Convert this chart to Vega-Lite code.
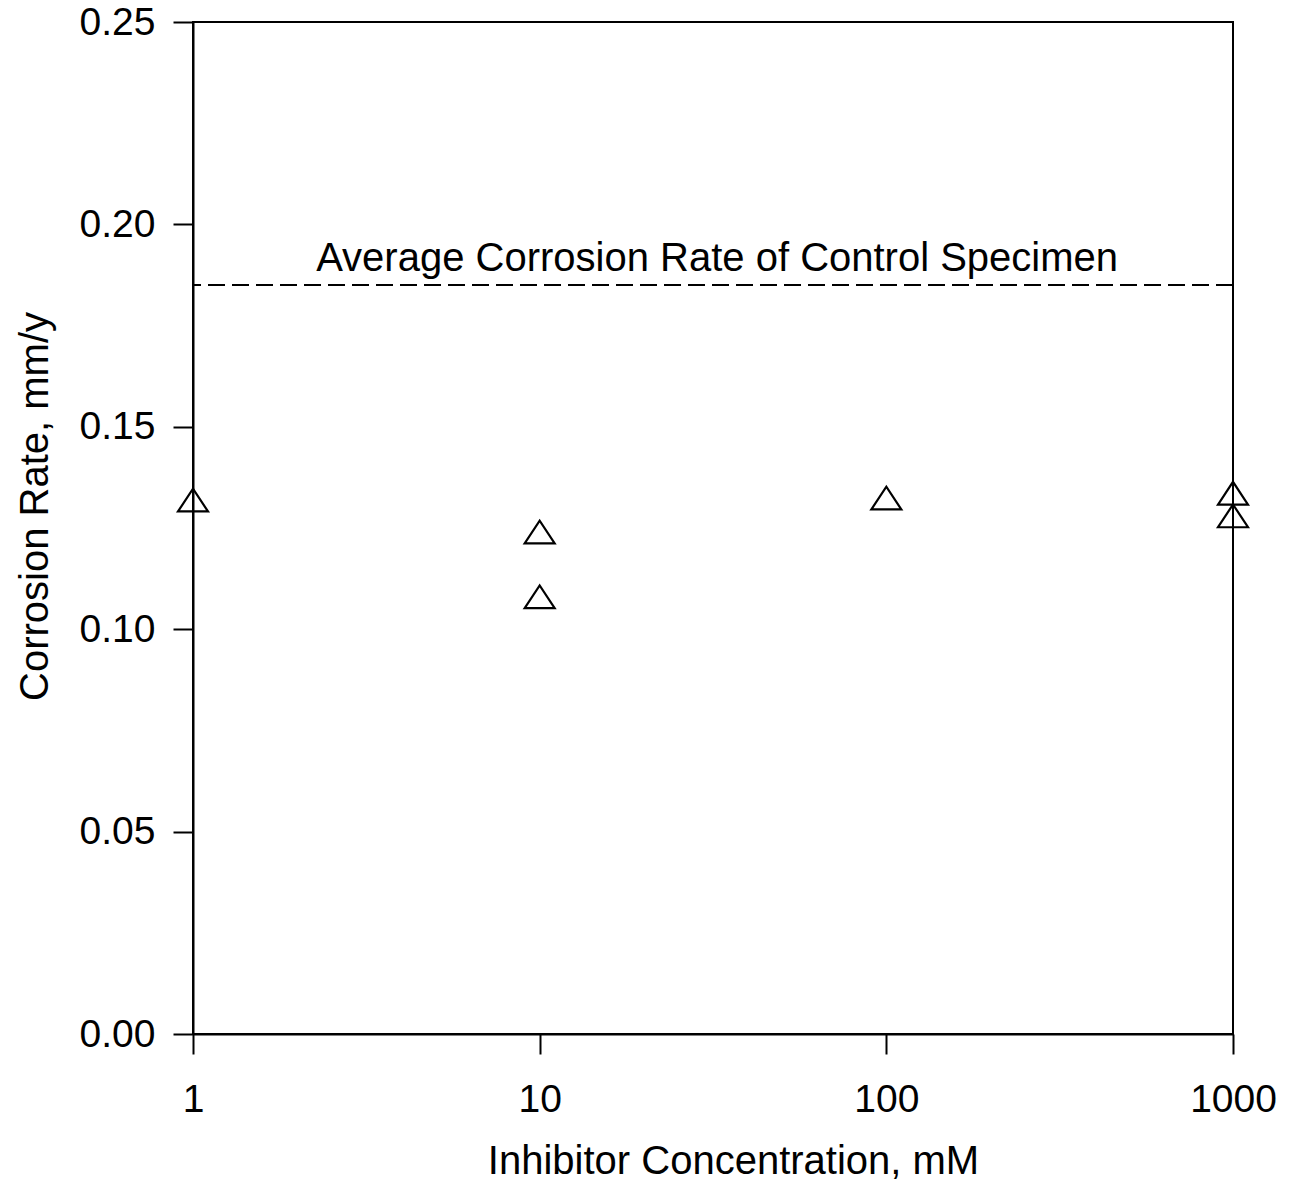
{
  "$schema": "https://vega.github.io/schema/vega-lite/v6.json",
  "autosize": {"type": "none"},
  "width": 1040,
  "height": 1012,
  "padding": {"left": 193, "top": 22, "right": 58, "bottom": 152},
  "background": "white",
  "config": {
    "view": {"stroke": "black", "strokeWidth": 2},
    "font": "Liberation Sans",
    "axis": {
      "grid": false,
      "domainColor": "black",
      "domainWidth": 2,
      "tickColor": "black",
      "tickWidth": 2,
      "labelColor": "black",
      "titleColor": "black",
      "labelFont": "Liberation Sans",
      "titleFont": "Liberation Sans",
      "labelFontSize": 39,
      "titleFontSize": 40,
      "titleFontWeight": "normal",
      "labelFlush": false
    }
  },
  "datasets": {
    "points": [
      {"conc": 1, "rate": 0.1319},
      {"conc": 10, "rate": 0.124},
      {"conc": 10, "rate": 0.108},
      {"conc": 100, "rate": 0.1324},
      {"conc": 1000, "rate": 0.1336},
      {"conc": 1000, "rate": 0.128}
    ],
    "control": [
      {"rate": 0.185}
    ],
    "note": [
      {"conc": 32.5, "rate": 0.1915, "label": "Average Corrosion Rate of Control Specimen"}
    ]
  },
  "layer": [
    {
      "data": {"name": "control"},
      "mark": {"type": "rule", "color": "black", "strokeWidth": 2, "strokeDash": [17, 7]},
      "encoding": {
        "y": {"field": "rate", "type": "quantitative", "scale": {"domain": [0, 0.25], "nice": false, "zero": true}}
      }
    },
    {
      "data": {"name": "note"},
      "mark": {"type": "text", "fontSize": 40, "font": "Liberation Sans", "color": "black", "align": "center", "baseline": "middle"},
      "encoding": {
        "x": {"field": "conc", "type": "quantitative"},
        "y": {"field": "rate", "type": "quantitative"},
        "text": {"field": "label"}
      }
    },
    {
      "data": {"name": "points"},
      "mark": {
        "type": "point",
        "shape": "M-1,0.76L1,0.76L0,-0.76Z",
        "size": 900,
        "filled": false,
        "stroke": "black",
        "strokeWidth": 2.2,
        "opacity": 1,
        "clip": false
      },
      "encoding": {
        "x": {
          "field": "conc",
          "type": "quantitative",
          "scale": {"type": "log", "domain": [1, 1000], "nice": false},
          "axis": {
            "title": "Inhibitor Concentration, mM",
            "values": [1, 10, 100, 1000],
            "format": "d",
            "tickSize": 20,
            "labelPadding": 26,
            "titlePadding": 22,
            "titleX": 540
          }
        },
        "y": {
          "field": "rate",
          "type": "quantitative",
          "scale": {"domain": [0, 0.25], "nice": false},
          "axis": {
            "title": "Corrosion Rate, mm/y",
            "values": [0, 0.05, 0.1, 0.15, 0.2, 0.25],
            "format": ".2f",
            "tickSize": 20,
            "labelPadding": 18,
            "titlePadding": 24,
            "titleY": 484
          }
        }
      }
    }
  ]
}
